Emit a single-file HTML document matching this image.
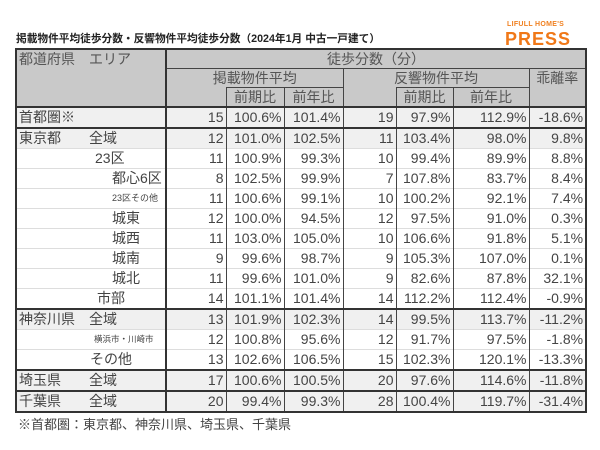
<!DOCTYPE html>
<html><head><meta charset="utf-8"><style>
body{margin:0;width:600px;height:450px;background:#fff;position:relative;overflow:hidden;font-family:"Liberation Sans","Noto Sans CJK JP",sans-serif;color:#444}
.title{position:absolute;left:16px;top:31px;font-size:10.7px;font-weight:bold;color:#222;white-space:nowrap}
.l1{position:absolute;left:507px;top:21px;font-size:7px;font-weight:bold;color:#f08020;letter-spacing:0.3px}
.l2{position:absolute;left:505px;top:29px;font-size:18px;font-weight:bold;color:#f07818;letter-spacing:1px}
table{position:absolute;left:15px;top:48px;border-collapse:collapse;table-layout:fixed;width:570px;border:2px solid #333;font-size:14px}
td{padding:0 2px;height:19px;line-height:19px;white-space:nowrap;border-left:1px solid #444;border-top:1px solid #ddd;text-align:right;overflow:visible}
td.a{text-align:left;border-right:2px solid #333}
.h td{background:#c9c9c9;text-align:center;color:#555;border-top:1px solid #444;height:18px;line-height:18px}
.g td{background:#f0f0f0}
.s td{border-top:2px solid #333}
.foot{position:absolute;left:18px;top:414px;font-size:13px;color:#444}
</style></head><body>
<div class="title">掲載物件平均徒歩分数・反響物件平均徒歩分数（2024年1月 中古一戸建て）</div>
<div class="l1">LIFULL HOME'S</div>
<div class="l2">PRESS</div>
<table>
<colgroup><col style="width:150px"><col style="width:60px"><col style="width:58px"><col style="width:59px"><col style="width:53px"><col style="width:57px"><col style="width:76px"><col style="width:57px"></colgroup>
<tr class="h"><td class="a" rowspan="3" style="vertical-align:top;text-align:left;border-top:none">都道府県　エリア</td><td colspan="7">徒歩分数（分）</td></tr>
<tr class="h"><td colspan="3">掲載物件平均</td><td colspan="3">反響物件平均</td><td rowspan="2" style="vertical-align:top">乖離率</td></tr>
<tr class="h"><td style="border-top:none"></td><td>前期比</td><td>前年比</td><td style="border-top:none"></td><td>前期比</td><td>前年比</td></tr>
<tr class="g s"><td class="a">首都圏※</td><td>15</td><td>100.6%</td><td>101.4%</td><td>19</td><td>97.9%</td><td>112.9%</td><td>-18.6%</td></tr>
<tr class="g s"><td class="a">東京都　　全域</td><td>12</td><td>101.0%</td><td>102.5%</td><td>11</td><td>103.4%</td><td>98.0%</td><td>9.8%</td></tr>
<tr><td class="a" style="padding-left:78px">23区</td><td>11</td><td>100.9%</td><td>99.3%</td><td>10</td><td>99.4%</td><td>89.9%</td><td>8.8%</td></tr>
<tr><td class="a" style="padding-left:95px">都心6区</td><td>8</td><td>102.5%</td><td>99.9%</td><td>7</td><td>107.8%</td><td>83.7%</td><td>8.4%</td></tr>
<tr><td class="a" style="padding-left:95px;font-size:9px">23区その他</td><td>11</td><td>100.6%</td><td>99.1%</td><td>10</td><td>100.2%</td><td>92.1%</td><td>7.4%</td></tr>
<tr><td class="a" style="padding-left:95px">城東</td><td>12</td><td>100.0%</td><td>94.5%</td><td>12</td><td>97.5%</td><td>91.0%</td><td>0.3%</td></tr>
<tr><td class="a" style="padding-left:95px">城西</td><td>11</td><td>103.0%</td><td>105.0%</td><td>10</td><td>106.6%</td><td>91.8%</td><td>5.1%</td></tr>
<tr><td class="a" style="padding-left:95px">城南</td><td>9</td><td>99.6%</td><td>98.7%</td><td>9</td><td>105.3%</td><td>107.0%</td><td>0.1%</td></tr>
<tr><td class="a" style="padding-left:95px">城北</td><td>11</td><td>99.6%</td><td>101.0%</td><td>9</td><td>82.6%</td><td>87.8%</td><td>32.1%</td></tr>
<tr><td class="a" style="padding-left:80px">市部</td><td>14</td><td>101.1%</td><td>101.4%</td><td>14</td><td>112.2%</td><td>112.4%</td><td>-0.9%</td></tr>
<tr class="g s"><td class="a">神奈川県　全域</td><td>13</td><td>101.9%</td><td>102.3%</td><td>14</td><td>99.5%</td><td>113.7%</td><td>-11.2%</td></tr>
<tr><td class="a" style="padding-left:77px;font-size:8.5px">横浜市・川崎市</td><td>12</td><td>100.8%</td><td>95.6%</td><td>12</td><td>91.7%</td><td>97.5%</td><td>-1.8%</td></tr>
<tr><td class="a" style="padding-left:73px">その他</td><td>13</td><td>102.6%</td><td>106.5%</td><td>15</td><td>102.3%</td><td>120.1%</td><td>-13.3%</td></tr>
<tr class="g s"><td class="a">埼玉県　　全域</td><td>17</td><td>100.6%</td><td>100.5%</td><td>20</td><td>97.6%</td><td>114.6%</td><td>-11.8%</td></tr>
<tr class="g s"><td class="a">千葉県　　全域</td><td>20</td><td>99.4%</td><td>99.3%</td><td>28</td><td>100.4%</td><td>119.7%</td><td>-31.4%</td></tr>
</table>
<div class="foot">※首都圏：東京都、神奈川県、埼玉県、千葉県</div>
</body></html>
